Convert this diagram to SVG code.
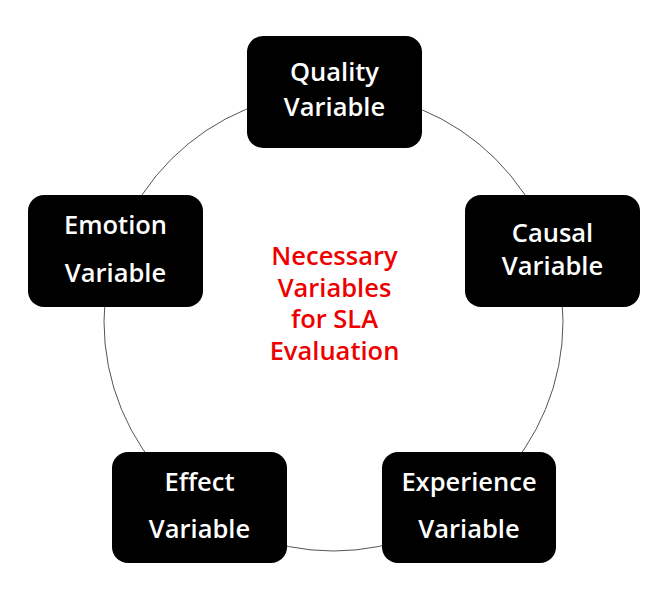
<svg xmlns="http://www.w3.org/2000/svg" width="670" height="602" viewBox="0 0 670 602">
<style>
.box{fill:#000}
.lbl{fill:#fff;font-family:"Open Sans","Noto Sans","Liberation Sans",sans-serif;font-size:25.5px;font-weight:600;text-anchor:middle}
.ctr{fill:#ee0000;font-family:"Open Sans","Noto Sans","Liberation Sans",sans-serif;font-size:25.5px;font-weight:600;text-anchor:middle}
</style>
<rect width="670" height="602" fill="#fff"/>
<g id="connectors">
<circle cx="333.5" cy="321.5" r="229.5" fill="none" stroke="#555" stroke-width="1"/>
</g>
<g id="quality">
<rect class="box" x="247" y="36" width="175" height="112" rx="16"/>
<text class="lbl" x="334.5" y="81">Quality</text>
<text class="lbl" x="334.5" y="116">Variable</text>
</g>
<g id="emotion">
<rect class="box" x="28" y="195" width="175" height="112" rx="16"/>
<text class="lbl" x="115.5" y="234">Emotion</text>
<text class="lbl" x="115.5" y="282">Variable</text>
</g>
<g id="causal">
<rect class="box" x="465" y="195" width="175" height="112" rx="16"/>
<text class="lbl" x="552.5" y="242">Causal</text>
<text class="lbl" x="552.5" y="275">Variable</text>
</g>
<g id="effect">
<rect class="box" x="112" y="452" width="175" height="111" rx="16"/>
<text class="lbl" x="199.5" y="491">Effect</text>
<text class="lbl" x="199.5" y="538">Variable</text>
</g>
<g id="experience">
<rect class="box" x="382" y="452" width="174" height="111" rx="16"/>
<text class="lbl" x="469" y="491">Experience</text>
<text class="lbl" x="469" y="538">Variable</text>
</g>
<g id="center">
<text class="ctr" x="334.5" y="265">Necessary</text>
<text class="ctr" x="334.5" y="297">Variables</text>
<text class="ctr" x="334.5" y="328">for SLA</text>
<text class="ctr" x="334.5" y="360">Evaluation</text>
</g>
</svg>
